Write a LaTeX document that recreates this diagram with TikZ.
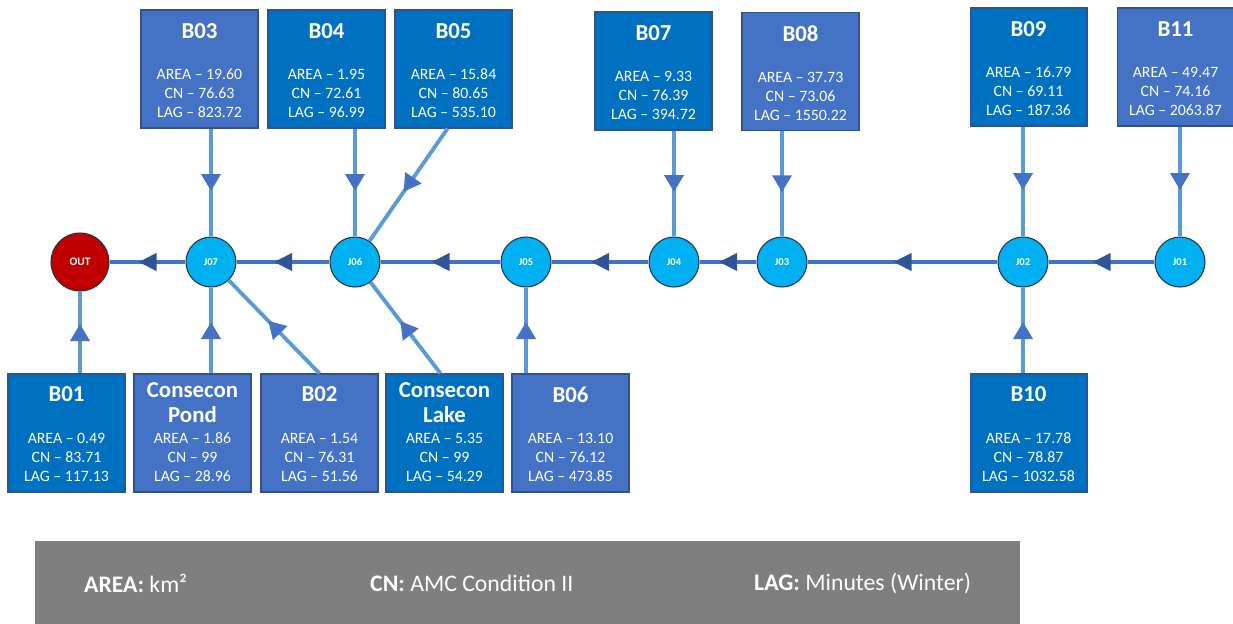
\documentclass[tikz,border=0pt]{standalone}
\usepackage{fontspec}
\setmainfont{Carlito}
\usetikzlibrary{arrows.meta,positioning,decorations.markings}
\definecolor{basinDark}{RGB}{0,112,192}
\definecolor{basinLight}{RGB}{68,114,196}
\definecolor{boxEdge}{RGB}{47,82,143}
\definecolor{junctionCyan}{RGB}{0,176,240}
\definecolor{junctionEdge}{RGB}{38,50,76}
\definecolor{outletRed}{RGB}{192,0,0}
\definecolor{channelBlue}{RGB}{68,114,196}
\definecolor{inflowBlue}{RGB}{91,155,213}
\definecolor{arrowDark}{RGB}{47,85,151}
\definecolor{legendGray}{RGB}{127,127,127}

\begin{document}
\begin{tikzpicture}[x=0.02cm, y=-0.02cm,
    basin/.style={draw=boxEdge, line width=0.6pt, minimum width=2.34cm,
      minimum height=2.36cm, inner sep=0pt},
    basinDark/.style={basin, fill=basinDark},
    basinLight/.style={basin, fill=basinLight},
    boxtitle/.style={text=white, align=center,
      font=\fontsize{13}{14.2}\selectfont\bfseries},
    boxdata/.style={text=white, align=center,
      font=\fontsize{9}{10.8}\selectfont},
    junction/.style={circle, draw=junctionEdge, line width=0.6pt,
      fill=junctionCyan, minimum size=1cm, inner sep=0pt, text=white,
      font=\fontsize{6}{7}\selectfont\bfseries},
    outlet/.style={junction, fill=outletRed, minimum size=1.16cm,
      font=\fontsize{6.5}{7}\selectfont\bfseries},
    % flow arrows sit centred on the middle of each link
    reach/.style={draw=channelBlue, line width=2.2pt, postaction={decorate},
      decoration={markings, mark=at position 0.5 with
        {\pgftransformxshift{0.18cm}\arrow{Triangle[length=0.36cm, width=0.34cm, color=arrowDark]}}}},
    inflow/.style={draw=inflowBlue, line width=2.2pt, postaction={decorate},
      decoration={markings, mark=at position 0.5 with
        {\pgftransformxshift{0.17cm}\arrow{Triangle[length=0.34cm, width=0.38cm, color=basinLight]}}}},
    keytext/.style={text=white, anchor=west, font=\fontsize{13.5}{16}\selectfont}]
  \useasboundingbox (0,0) rectangle (1233,623);

  % Junctions along the main channel
  \node[outlet] (out) at (80,262) {OUT};
  \node[junction] (j07) at (211,262) {J07};
  \node[junction] (j06) at (355,262) {J06};
  \node[junction] (j05) at (526,262) {J05};
  \node[junction] (j04) at (674,262) {J04};
  \node[junction] (j03) at (782,262) {J03};
  \node[junction] (j02) at (1023,262) {J02};
  \node[junction] (j01) at (1180,262) {J01};

  % Sub-basins north of the channel
  \node[basinLight] (b03) at (199.5,69) {};
  \node[boxtitle] (b03t) at ([yshift=-0.44cm]b03.north) {B03};
  \node[boxdata] (b03d) at ([yshift=0.7cm]b03.south) {AREA -- 19.60\\CN -- 76.63\\LAG -- 823.72};
  \node[basinDark] (b04) at (326.5,69) {};
  \node[boxtitle] (b04t) at ([yshift=-0.44cm]b04.north) {B04};
  \node[boxdata] (b04d) at ([yshift=0.7cm]b04.south) {AREA -- 1.95\\CN -- 72.61\\LAG -- 96.99};
  \node[basinDark] (b05) at (453.5,69) {};
  \node[boxtitle] (b05t) at ([yshift=-0.44cm]b05.north) {B05};
  \node[boxdata] (b05d) at ([yshift=0.7cm]b05.south) {AREA -- 15.84\\CN -- 80.65\\LAG -- 535.10};
  \node[basinDark] (b07) at (653.5,71) {};
  \node[boxtitle] (b07t) at ([yshift=-0.44cm]b07.north) {B07};
  \node[boxdata] (b07d) at ([yshift=0.7cm]b07.south) {AREA -- 9.33\\CN -- 76.39\\LAG -- 394.72};
  \node[basinLight] (b08) at (800.5,71.5) {};
  \node[boxtitle] (b08t) at ([yshift=-0.44cm]b08.north) {B08};
  \node[boxdata] (b08d) at ([yshift=0.7cm]b08.south) {AREA -- 37.73\\CN -- 73.06\\LAG -- 1550.22};
  \node[basinDark] (b09) at (1028.5,67) {};
  \node[boxtitle] (b09t) at ([yshift=-0.44cm]b09.north) {B09};
  \node[boxdata] (b09d) at ([yshift=0.7cm]b09.south) {AREA -- 16.79\\CN -- 69.11\\LAG -- 187.36};
  \node[basinLight] (b11) at (1175.5,67) {};
  \node[boxtitle] (b11t) at ([yshift=-0.44cm]b11.north) {B11};
  \node[boxdata] (b11d) at ([yshift=0.7cm]b11.south) {AREA -- 49.47\\CN -- 74.16\\LAG -- 2063.87};

  % Sub-basins south of the channel
  \node[basinDark] (b01) at (66.5,433) {};
  \node[boxtitle] (b01t) at ([yshift=-0.42cm]b01.north) {B01};
  \node[boxdata] (b01d) at ([yshift=0.7cm]b01.south) {AREA -- 0.49\\CN -- 83.71\\LAG -- 117.13};
  \node[basinLight] (pond) at (192.5,433) {};
  \node[boxtitle] (pondt) at ([yshift=-0.59cm]pond.north) {Consecon\\Pond};
  \node[boxdata] (pondd) at ([yshift=0.7cm]pond.south) {AREA -- 1.86\\CN -- 99\\LAG -- 28.96};
  \node[basinLight] (b02) at (319.5,433) {};
  \node[boxtitle] (b02t) at ([yshift=-0.42cm]b02.north) {B02};
  \node[boxdata] (b02d) at ([yshift=0.7cm]b02.south) {AREA -- 1.54\\CN -- 76.31\\LAG -- 51.56};
  \node[basinDark] (lake) at (444.5,433) {};
  \node[boxtitle] (laket) at ([yshift=-0.59cm]lake.north) {Consecon\\Lake};
  \node[boxdata] (laked) at ([yshift=0.7cm]lake.south) {AREA -- 5.35\\CN -- 99\\LAG -- 54.29};
  \node[basinLight] (b06) at (570.5,433) {};
  \node[boxtitle] (b06t) at ([yshift=-0.42cm]b06.north) {B06};
  \node[boxdata] (b06d) at ([yshift=0.7cm]b06.south) {AREA -- 13.10\\CN -- 76.12\\LAG -- 473.85};
  \node[basinDark] (b10) at (1028.5,433) {};
  \node[boxtitle] (b10t) at ([yshift=-0.42cm]b10.north) {B10};
  \node[boxdata] (b10d) at ([yshift=0.7cm]b10.south) {AREA -- 17.78\\CN -- 78.87\\LAG -- 1032.58};

  % Main channel, flowing west to the outlet
  \draw[reach] (j01) -- (j02);
  \draw[reach] (j02) -- (j03);
  \draw[reach] (j03) -- (j04);
  \draw[reach] (j04) -- (j05);
  \draw[reach] (j05) -- (j06);
  \draw[reach] (j06) -- (j07);
  \draw[reach] (j07) -- (out);

  % Inflows from the sub-basins
  \draw[inflow] (j07 |- b03.south) -- (j07);
  \draw[inflow] (j06 |- b04.south) -- (j06);
  \draw[inflow] ([xshift=-0.12cm]b05.south) -- (j06);
  \draw[inflow] (j04 |- b07.south) -- (j04);
  \draw[inflow] (j03 |- b08.south) -- (j03);
  \draw[inflow] (j02 |- b09.south) -- (j02);
  \draw[inflow] (j01 |- b11.south) -- (j01);
  \draw[inflow] (out |- b01.north) -- (out);
  \draw[inflow] (j07 |- pond.north) -- (j07);
  \draw[inflow] (b02.north) -- (j07);
  \draw[inflow] ([xshift=-0.08cm]lake.north) -- (j06);
  \draw[inflow] (j05 |- b06.north) -- (j05);
  \draw[inflow] (j02 |- b10.north) -- (j02);

  % Legend of units
  \node[fill=legendGray, minimum width=19.7cm, minimum height=1.7cm,
    anchor=north west, inner sep=0pt] (legend) at (35,541) {};
  \node[keytext] (keyArea) at (78,583) {\textbf{AREA:} km²};
  \node[keytext] (keyCN) at (364,583) {\textbf{CN:} AMC Condition II};
  \node[keytext] (keyLag) at (748,583) {\textbf{LAG:} Minutes (Winter)};
\end{tikzpicture}
\end{document}
